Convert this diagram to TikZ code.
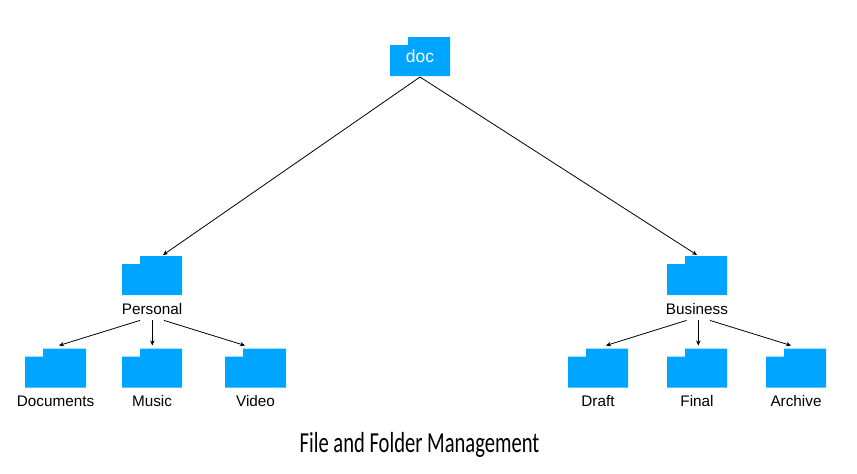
\documentclass[tikz,border=0pt]{standalone}
\usepackage{fontspec}
\setmainfont{Liberation Sans}
\newfontfamily\titlefont[FakeStretch=0.71]{Carlito}
\usetikzlibrary{arrows.meta,positioning}
\definecolor{folderblue}{HTML}{00A5FF}
\tikzset{
  folder/.style={minimum width=60pt,minimum height=39pt,inner sep=0pt,outer sep=0pt,
    path picture={\fill[folderblue] (path picture bounding box.south west)
      -- ++(0,31pt) -- ++(18pt,0) -- ++(0,8pt) -| (path picture bounding box.south east) -- cycle;}},
  foldername/.style={font=\fontsize{15.3}{15.3}\selectfont,inner sep=0pt,text height=11pt,text depth=3pt,below=8pt of #1},
  link/.style={-{Stealth[length=5pt,width=4.5pt]},line width=0.8pt}
}
\begin{document}
\begin{tikzpicture}[x=1pt,y=-1pt]
  \useasboundingbox (0,0) rectangle (857,474);
  \node[folder,text=white,font=\fontsize{17.5}{17.5}\selectfont] (doc) at (420,56.5) {doc};
  \node[folder] (personal) at (152,275.5) {};
  \node[folder] (business) at (697,275.5) {};
  \node[folder,minimum width=61pt] (documents) at (55.5,368) {};
  \node[folder] (music) at (152,368) {};
  \node[folder,minimum width=61pt] (video) at (255.5,368) {};
  \node[folder] (draft) at (598,368) {};
  \node[folder] (final) at (697,368) {};
  \node[folder] (archive) at (796,368) {};
  \node[foldername=personal] (personaltext) {Personal};
  \node[foldername=business] (businesstext) {Business};
  \node[foldername=documents] (documentstext) {Documents};
  \node[foldername=music] (musictext) {Music};
  \node[foldername=video] (videotext) {Video};
  \node[foldername=draft] (drafttext) {Draft};
  \node[foldername=final] (finaltext) {Final};
  \node[foldername=archive] (archivetext) {Archive};
  \node[font=\titlefont\fontsize{29}{29}\selectfont] (title) at (419.5,445) {File and Folder Management};
  \draw[link] ([yshift=-1pt]doc.south) -- ([xshift=11pt,yshift=1pt]personal.north);
  \draw[link] ([yshift=-1pt]doc.south) -- ([yshift=1pt]business.north);
  \draw[link] ([xshift=-12pt,yshift=-3pt]personaltext.south) -- ([xshift=3.5pt,yshift=3pt]documents.north);
  \draw[link] ([xshift=0.3pt,yshift=-3pt]personaltext.south) -- ([xshift=0.3pt,yshift=3pt]music.north);
  \draw[link] ([xshift=12pt,yshift=-3pt]personaltext.south) -- ([xshift=-10.5pt,yshift=3pt]video.north);
  \draw[link] ([xshift=-10.5pt,yshift=-3pt]businesstext.south) -- ([xshift=8pt,yshift=3pt]draft.north);
  \draw[link] ([xshift=1.3pt,yshift=-3pt]businesstext.south) -- ([xshift=1.3pt,yshift=3pt]final.north);
  \draw[link] ([xshift=13pt,yshift=-3pt]businesstext.south) -- ([xshift=-5pt,yshift=3pt]archive.north);
\end{tikzpicture}
\end{document}
